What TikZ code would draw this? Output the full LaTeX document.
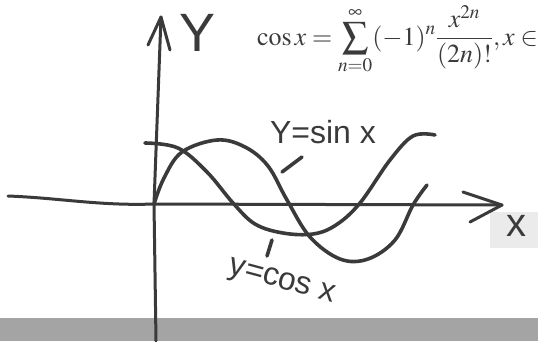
\documentclass[tikz,border=0pt]{standalone}
\usepackage{mathptmx}
\usepackage{fontspec}
\setmainfont{Liberation Serif}
\setsansfont{Liberation Sans}
\definecolor{pencil}{HTML}{3A3A3A}
\definecolor{band}{HTML}{A4A4A4}
\tikzset{
  curve/.style={line width=3.6pt, pencil, line cap=round, line join=round},
  axis/.style={line width=3pt, pencil, line cap=round, line join=round},
  hand/.style={pencil, font=\sffamily\fontsize{#1}{#1}\selectfont, inner sep=0pt},
}
\begin{document}
\begin{tikzpicture}[x=1pt, y=-1pt]
			\useasboundingbox (0,0) rectangle (538,341);
			\fill[band] (0,318) rectangle (538,341);
			\fill[black!8] (490,212) rectangle (538,248);
			\coordinate (O) at (154,204);
			\coordinate (ytip) at (161,17);
			\coordinate (xtip) at (502,205);
			% axes
			\draw[axis] (156,341) -- (O) -- (ytip);
			\draw[axis] (148,45) -- (ytip) -- (170,50);
			\draw[axis] (8,196) .. controls (60,198) and (100,206) .. (O) -- (xtip);
			\draw[axis] (463,192) -- (xtip) -- (470,222);
			% curves
			\draw[curve] plot[smooth, tension=0.6] coordinates {
					(145,143) (178,148) (207,172) (233,203) (255,224) (283,233)
					(313,234) (336,225) (360,203) (390,160) (413,136) (435,135)
				};
			\draw[curve] plot[smooth, tension=0.6] coordinates {
					(O) (164,178) (182,152) (217,140) (245,147) (268,166)
					(287,200) (310,237) (340,259) (368,259) (395,240) (413,205) (427,185)
				};
			\foreach \x/\y/\dx/\dy in {302/157/-20/15, 272/240/-5/16} {
					\draw[curve] (\x,\y) -- ++(\dx,\dy);
				}
			% labels
			\node[hand=54] (ylab) at (198,33) {Y};
			\node[hand=32] (sinlab) at (323,132) {Y=sin x};
			\node[hand=32, rotate=-15] (coslab) at (282,283) {y=cos x};
			\node[hand=40] (xlab) at (516,226) {x};
			\node[anchor=west, pencil, inner sep=0pt, font=\fontsize{26}{31}\selectfont] (series) at (257,40)
			{$\displaystyle \cos x=\sum_{n=0}^{\infty}(-1)^n\frac{x^{2n}}{(2n)!},x\in$};
		\end{tikzpicture}
\end{document}
